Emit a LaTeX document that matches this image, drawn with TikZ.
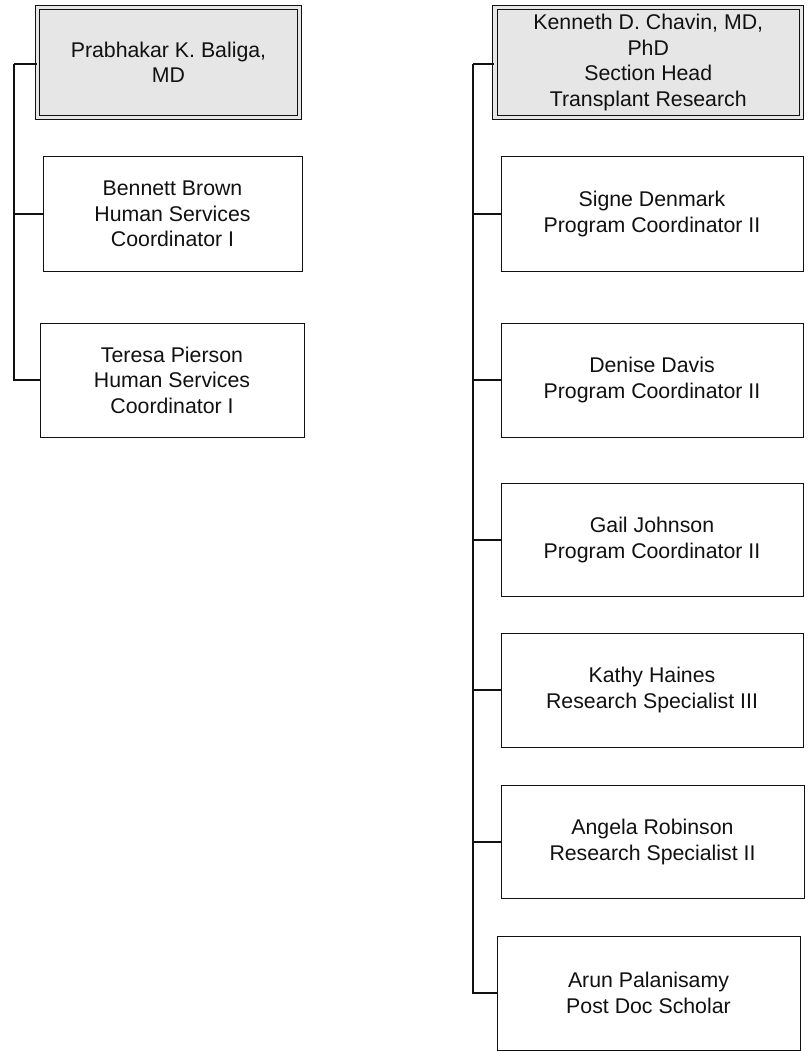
\documentclass[tikz,border=0pt]{standalone}
\usepackage{fontspec}
\setmainfont{Liberation Sans}
\definecolor{headfill}{HTML}{E6E6E6}
\definecolor{inkc}{HTML}{111111}
\tikzset{
  box/.style={draw=inkc, line width=1pt, fill=white, rectangle, inner sep=0pt, align=center,
    font=\fontsize{21.3}{25.5}\selectfont, text=inkc},
  headbox/.style={box, fill=headfill, double=headfill, double distance=3.5pt, line width=1.1pt},
  conn/.style={draw=inkc, line width=1.3pt}
}
\begin{document}
\begin{tikzpicture}[x=1pt,y=-1pt]
\useasboundingbox[fill=white] (0,0) rectangle (807,1051);
% left tree
\node[headbox, minimum width=262pt, minimum height=110pt] (baliga) at (168.5,62.5) {Prabhakar K. Baliga,\\MD};
\node[box, minimum width=259pt, minimum height=114pt] (brown) at (172.5,214) {Bennett Brown\\Human Services\\Coordinator I};
\node[box, minimum width=264pt, minimum height=114pt] (pierson) at (172,380) {Teresa Pierson\\Human Services\\Coordinator I};
% right tree
\node[headbox, minimum width=306.5pt, minimum height=110pt] (chavin) at (648.25,62.5) {Kenneth D. Chavin, MD,\\PhD\\Section Head\\Transplant Research};
\node[box, minimum width=302pt, minimum height=114pt] (denmark) at (652,214) {Signe Denmark\\Program Coordinator II};
\node[box, minimum width=302pt, minimum height=114pt] (davis) at (652,380) {Denise Davis\\Program Coordinator II};
\node[box, minimum width=302pt, minimum height=113pt] (johnson) at (652,540) {Gail Johnson\\Program Coordinator II};
\node[box, minimum width=302pt, minimum height=114pt] (haines) at (652,690) {Kathy Haines\\Research Specialist III};
\node[box, minimum width=303pt, minimum height=113pt] (robinson) at (652.5,842) {Angela Robinson\\Research Specialist II};
\node[box, minimum width=303pt, minimum height=114pt] (palanisamy) at (648.5,993) {Arun Palanisamy\\Post Doc Scholar};
% connectors
\coordinate (ltrunk) at (14,64);
\coordinate (rtrunk) at (473,64);
\draw[conn] (baliga.west |- ltrunk) -- (ltrunk);
\foreach \c in {brown,pierson}{
  \draw[conn] (ltrunk) |- (\c.west);
}
\draw[conn] (chavin.west |- rtrunk) -- (rtrunk);
\foreach \c in {denmark,davis,johnson,haines,robinson,palanisamy}{
  \draw[conn] (rtrunk) |- (\c.west);
}
\end{tikzpicture}
\end{document}
